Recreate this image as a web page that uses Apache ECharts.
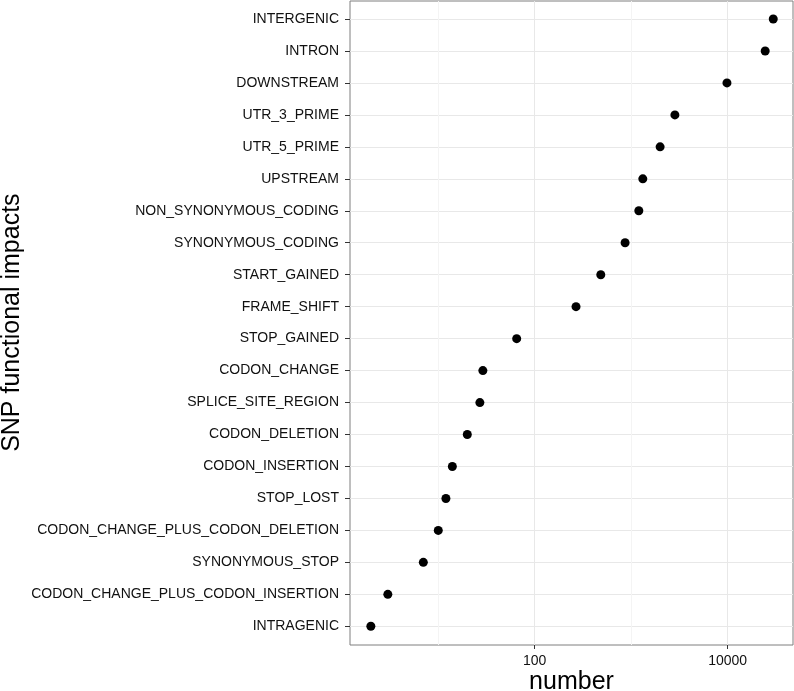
<!DOCTYPE html>
<html>
<head>
<meta charset="utf-8">
<script src="https://cdn.jsdelivr.net/npm/echarts@6/dist/echarts.min.js"></script>
<style>
html,body{margin:0;padding:0;background:#fff;}
#chart{width:794px;height:691px;}
</style>
</head>
<body>
<div id="chart"></div>
<script>
// ---- data ----
const categories = [
  "INTERGENIC","INTRON","DOWNSTREAM","UTR_3_PRIME","UTR_5_PRIME","UPSTREAM",
  "NON_SYNONYMOUS_CODING","SYNONYMOUS_CODING","START_GAINED","FRAME_SHIFT",
  "STOP_GAINED","CODON_CHANGE","SPLICE_SITE_REGION","CODON_DELETION",
  "CODON_INSERTION","STOP_LOST","CODON_CHANGE_PLUS_CODON_DELETION",
  "SYNONYMOUS_STOP","CODON_CHANGE_PLUS_CODON_INSERTION","INTRAGENIC"
];
const counts = [29700,24500,9840,2840,1995,1320,1200,865,484,268,65,29,27,20,14,12,10,7,3,2];
const xTickLabels = [100, 10000];
const xMin = 1.216, xMax = 47600;
const xTitle = "number";
const yTitle = "SNP functional impacts";

// ---- layout ----
const L = 350, W = 443, TOP = 1, PLOT_H = 644;
const lmin = Math.log10(xMin), lmax = Math.log10(xMax);
const tickLeft = L + W * (Math.log10(xTickLabels[0]) - lmin) / (lmax - lmin);
const tickRight = L + W * (Math.log10(xTickLabels[xTickLabels.length-1]) - lmin) / (lmax - lmin);
const FONT = "'Liberation Sans', Arial, Helvetica, sans-serif";

const chart = echarts.init(document.getElementById('chart'), null, {renderer:'canvas'});
const option = {
  animation: false,
  backgroundColor: '#ffffff',
  grid: [
    {left: L, width: W, top: TOP, height: PLOT_H, show: true, borderColor: '#7f7f7f', borderWidth: 1,
     backgroundColor: '#ffffff', containLabel: false, outerBoundsMode: 'none'},
    {left: L, width: W, top: 19, height: 607.3, containLabel: false, outerBoundsMode: 'none'},
    {left: tickLeft, width: tickRight - tickLeft, top: TOP, height: PLOT_H, containLabel: false, outerBoundsMode: 'none'}
  ],
  xAxis: [
    {gridIndex: 0, position: 'bottom', type: 'log', logBase: 10, min: xMin, max: xMax,
     axisLine: {show: false}, axisTick: {show: false}, axisLabel: {show: false},
     splitLine: {show: true, showMinLine: false, showMaxLine: false, lineStyle: {color: '#f4f4f4', width: 1}}},
    {gridIndex: 0, position: 'bottom', offset: 0, type: 'log', logBase: 100, min: xMin, max: xMax,
     axisLine: {show: false}, axisTick: {show: false}, axisLabel: {show: false},
     splitLine: {show: true, showMinLine: false, showMaxLine: false, lineStyle: {color: '#e8e8e8', width: 1}},
     name: xTitle, nameLocation: 'middle', nameGap: 25, nameMoveOverlap: false,
     nameTextStyle: {fontFamily: FONT, fontSize: 25, color: '#000'}},
    {gridIndex: 2, position: 'bottom', type: 'log', logBase: 100, min: xTickLabels[0], max: xTickLabels[xTickLabels.length-1],
     axisLine: {show: false},
     axisTick: {show: true, length: 4, lineStyle: {color: '#333'}},
     axisLabel: {show: true, margin: 9, fontFamily: FONT, fontSize: 14, color: '#111',
                 formatter: v => String(v)},
     splitLine: {show: false}},
    {gridIndex: 1, position: 'bottom', type: 'log', logBase: 10, min: xMin, max: xMax, show: false}
  ],
  yAxis: [
    {gridIndex: 0, type: 'value', show: false},
    {gridIndex: 1, position: 'left', type: 'category', data: categories, inverse: true, boundaryGap: false,
     axisLine: {show: false},
     axisTick: {show: true, length: 5, lineStyle: {color: '#333'}},
     axisLabel: {show: true, margin: 11, fontFamily: FONT, fontSize: 14, color: '#111', interval: 0},
     splitLine: {show: true, interval: 0, lineStyle: {color: '#e8e8e8', width: 1}},
     name: yTitle, nameLocation: 'middle', nameGap: 325, nameRotate: 90, nameMoveOverlap: false,
     nameTextStyle: {fontFamily: FONT, fontSize: 25, color: '#000'}},
    {gridIndex: 2, type: 'value', show: false}
  ],
  series: [{
    type: 'scatter',
    xAxisIndex: 3, yAxisIndex: 1,
    symbol: 'circle', symbolSize: 9,
    itemStyle: {color: '#000', opacity: 1},
    data: categories.map((c, i) => [counts[i], c])
  }]
};
chart.setOption(option);
</script>
</body>
</html>
